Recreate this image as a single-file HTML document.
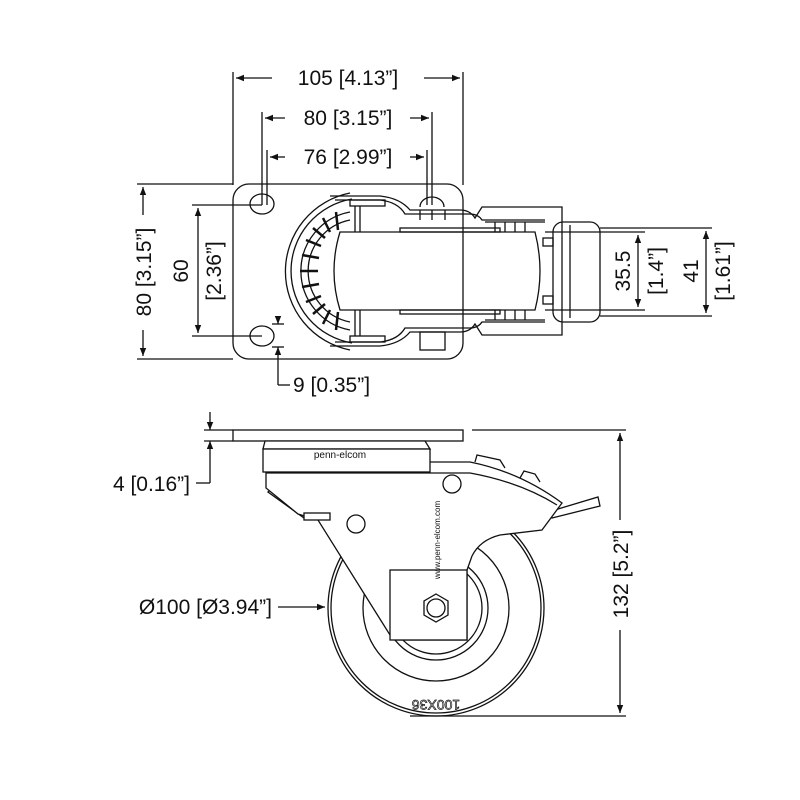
<!DOCTYPE html>
<html><head><meta charset="utf-8"><style>
html,body{margin:0;padding:0;background:#fff}
svg{display:block}
text{font-family:"Liberation Sans",Arial,sans-serif;font-size:21px;fill:#111}
</style></head><body>
<svg width="800" height="800" viewBox="0 0 800 800" xmlns="http://www.w3.org/2000/svg">
<defs>
<marker id="a" viewBox="0 0 10 10" refX="10" refY="5" markerWidth="10" markerHeight="8" orient="auto-start-reverse" markerUnits="userSpaceOnUse"><path d="M0,1 L10,5 L0,9z" fill="#111"/></marker>
</defs>
<g stroke="#111" stroke-width="1.3" fill="none">
<!-- top dims -->
<line x1="233" y1="72" x2="233" y2="185"/><line x1="463" y1="72" x2="463" y2="185"/>
<line x1="236" y1="78" x2="272" y2="78" marker-start="url(#a)"/><line x1="424" y1="78" x2="460" y2="78" marker-end="url(#a)"/>
<line x1="262" y1="112" x2="262" y2="205"/><line x1="432" y1="112" x2="432" y2="205"/>
<line x1="265" y1="118" x2="285" y2="118" marker-start="url(#a)"/><line x1="410" y1="118" x2="429" y2="118" marker-end="url(#a)"/>
<line x1="267" y1="150" x2="267" y2="205"/><line x1="427" y1="150" x2="427" y2="205"/>
<line x1="270" y1="157" x2="285" y2="157" marker-start="url(#a)"/><line x1="410" y1="157" x2="424" y2="157" marker-end="url(#a)"/>
<!-- left dims -->
<line x1="137" y1="184" x2="233" y2="184"/><line x1="137" y1="359" x2="233" y2="359"/>
<line x1="143" y1="187" x2="143" y2="215" marker-start="url(#a)"/><line x1="143" y1="330" x2="143" y2="356" marker-end="url(#a)"/>
<line x1="192" y1="205" x2="262" y2="205"/><line x1="192" y1="336" x2="262" y2="336"/>
<line x1="198" y1="208" x2="198" y2="333" marker-start="url(#a)" marker-end="url(#a)"/>
<line x1="272" y1="324" x2="284" y2="324"/><line x1="272" y1="347" x2="284" y2="347"/>
<line x1="278" y1="318" x2="278" y2="324" marker-end="url(#a)"/>
<line x1="278" y1="385" x2="278" y2="347" marker-end="url(#a)"/>
<line x1="278" y1="385" x2="290" y2="385"/>
<!-- right dims -->
<line x1="545" y1="232" x2="645" y2="232"/><line x1="545" y1="310" x2="645" y2="310"/>
<line x1="600" y1="228" x2="712" y2="228"/><line x1="600" y1="316" x2="712" y2="316"/>
<line x1="638" y1="235" x2="638" y2="307" marker-start="url(#a)" marker-end="url(#a)"/>
<line x1="706" y1="231" x2="706" y2="313" marker-start="url(#a)" marker-end="url(#a)"/>
<!-- top view plate -->
<rect x="233" y="184" width="230" height="175" rx="16"/>
<ellipse cx="262" cy="204" rx="12" ry="10"/><ellipse cx="262" cy="336" rx="12" ry="10"/>
<path d="M420,207 a12,10 0 0 1 24,0"/>
<!-- fork outline -->
<path d="M330,196 L380,196 Q400,198 410,210 L460,210 Q470,210 475,218 L482,207 L562,207 L562,335 L482,335 L475,324 Q470,332 460,332 L410,332 Q400,344 380,346 L330,346"/>
<path d="M335,200 L380,200 Q398,202 405,214 L470,214 Q478,214 482,220 L545,220 M545,322 L482,322 Q478,328 470,328 L405,328 Q398,340 380,342 L335,342"/>
<rect x="420" y="332" width="25" height="18"/>
<path d="M420,210 L420,220 M445,210 L445,220 M432,210 L432,220"/>
<!-- housing arcs -->
<path d="M350,193 A80,80 0 0 0 350,350"/>
<path d="M352,199 A73,73 0 0 0 352,343"/>
<path d="M350,212 A60,60 0 0 0 350,330"/>
<path d="M350,220 A52,52 0 0 0 350,322"/>
<g stroke-width="2.5">
<line x1="300" y1="271" x2="318" y2="271"/><line x1="302" y1="255" x2="319" y2="258"/><line x1="302" y1="287" x2="319" y2="284"/>
<line x1="306" y1="240" x2="321" y2="246"/><line x1="306" y1="302" x2="321" y2="296"/>
<line x1="313" y1="228" x2="325" y2="238"/><line x1="313" y1="314" x2="325" y2="304"/>
<line x1="323" y1="218" x2="330" y2="232"/><line x1="323" y1="324" x2="330" y2="310"/>
<line x1="336" y1="212" x2="338" y2="230"/><line x1="336" y1="330" x2="338" y2="312"/>
</g>
<rect x="350" y="200" width="35" height="6"/><rect x="350" y="336" width="35" height="6"/>
<line x1="355" y1="206" x2="355" y2="232"/><line x1="360" y1="206" x2="360" y2="232"/>
<line x1="355" y1="310" x2="355" y2="336"/><line x1="360" y1="310" x2="360" y2="336"/>
<!-- wheel -->
<path d="M340,232 L535,232 Q545,271 535,310 L340,310 Q328,271 340,232z"/>
<rect x="400" y="228" width="100" height="4"/><rect x="400" y="310" width="100" height="4"/>
<path d="M485,222 L545,222 M485,320 L545,320 M495,222 L495,232 M505,222 L505,232 M515,222 L515,232 M525,222 L525,232 M495,310 L495,320 M505,310 L505,320 M515,310 L515,320 M525,310 L525,320"/>
<rect x="543" y="238" width="10" height="8"/><rect x="543" y="296" width="10" height="8"/>
<rect x="553" y="222" width="47" height="100" rx="10"/>
<line x1="570" y1="225" x2="570" y2="318"/>
<!-- side view -->
<rect x="233" y="430" width="230" height="11"/>
<line x1="472" y1="430" x2="626" y2="430"/><line x1="410" y1="716" x2="626" y2="716"/>
<line x1="620" y1="433" x2="620" y2="520" marker-start="url(#a)"/><line x1="620" y1="630" x2="620" y2="713" marker-end="url(#a)"/>
<line x1="204" y1="430" x2="233" y2="430"/><line x1="204" y1="441" x2="233" y2="441"/>
<line x1="210" y1="412" x2="210" y2="430" marker-end="url(#a)"/>
<line x1="210" y1="483" x2="210" y2="441" marker-end="url(#a)"/>
<line x1="196" y1="483" x2="210" y2="483"/>
<line x1="278" y1="607" x2="325" y2="607" marker-end="url(#a)"/>
<!-- wheel side -->
<circle cx="436" cy="608" r="108"/><circle cx="436" cy="608" r="105"/>
<circle cx="436" cy="608" r="73"/><circle cx="436" cy="608" r="52"/><circle cx="436" cy="608" r="46"/>
<!-- levers -->
<path d="M268,492 L274,486 L310,512 L304,518z" fill="#fff"/>
<path d="M548,512 L598,497 L600,506 L552,518z" fill="#fff"/>
<path d="M475,462 L477,455 L500,460 L505,468" fill="#fff"/>
<path d="M520,478 L524,471 L535,474 L540,482" fill="#fff"/>
<!-- fork body -->
<path d="M266,462 L266,488 L298,514 L318,520 L390,635 L395,640 L467,640 L467,570 L472,556 Q480,540 500,535 L542,530 L562,503 Q520,472 470,462 Z" fill="#fff"/>
<path d="M266,473 L470,473 Q520,482 557,505"/>
<rect x="304" y="513" width="26" height="7" fill="#fff"/>
<path d="M265,441 L425,441 L430,449 L263,449z" fill="#fff"/>
<rect x="263" y="449" width="167" height="23" fill="#fff"/>
<circle cx="452" cy="484" r="9"/><circle cx="356" cy="524" r="9"/>
<rect x="390" y="570" width="77" height="70" fill="#fff"/>
<polygon points="436,594 448,601 448,615 436,622 424,615 424,601" fill="#fff"/>
<circle cx="436" cy="608" r="9"/>
</g>
<g>
<text x="348" y="85" text-anchor="middle">105 [4.13”]</text>
<text x="348" y="125" text-anchor="middle">80 [3.15”]</text>
<text x="348" y="164" text-anchor="middle">76 [2.99”]</text>
<text transform="translate(151,272) rotate(-90)" text-anchor="middle">80 [3.15”]</text>
<text transform="translate(188,271) rotate(-90)" text-anchor="middle">60</text>
<text transform="translate(221,271) rotate(-90)" text-anchor="middle">[2.36”]</text>
<text x="293" y="392">9 [0.35”]</text>
<text transform="translate(630,271) rotate(-90)" text-anchor="middle">35.5</text>
<text transform="translate(663,271) rotate(-90)" text-anchor="middle">[1.4”]</text>
<text transform="translate(698,271) rotate(-90)" text-anchor="middle">41</text>
<text transform="translate(730,271) rotate(-90)" text-anchor="middle">[1.61”]</text>
<text x="190" y="491" text-anchor="end">4 [0.16”]</text>
<text x="272" y="614" text-anchor="end">Ø100 [Ø3.94”]</text>
<text transform="translate(628,574) rotate(-90)" text-anchor="middle">132 [5.2”]</text>
<text x="340" y="458" text-anchor="middle" style="font-size:10px">penn-elcom</text>
<text transform="translate(440,540) rotate(-90)" text-anchor="middle" style="font-size:8px">www.penn-elcom.com</text>
<text transform="translate(436,700) rotate(180)" text-anchor="middle" style="font-size:14px;fill:none;stroke:#111;stroke-width:0.7">100X36</text>
</g>
</svg>
</body></html>
